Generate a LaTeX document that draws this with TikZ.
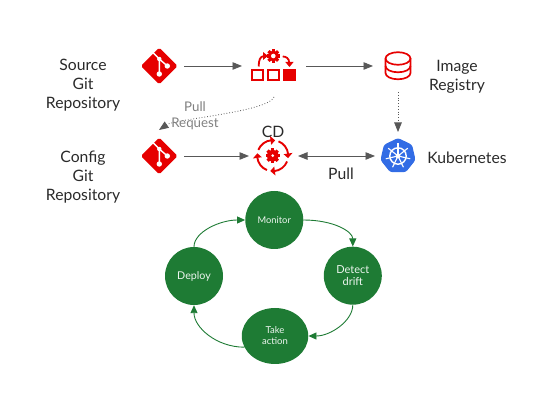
\documentclass[tikz,border=0pt]{standalone}
\usepackage{fontspec}
\setmainfont{Lato}
\usetikzlibrary{arrows.meta,shapes.geometric}
\definecolor{rhred}{HTML}{E60000}
\definecolor{kblue}{HTML}{326CE5}
\definecolor{cgreen}{HTML}{1E7B34}
\definecolor{flow}{HTML}{585858}
\definecolor{soft}{HTML}{808080}
\definecolor{ink}{HTML}{2A2A2A}
\tikzset{
  x=1pt,y=-1pt,
  slot/.style={draw=none,fill=none,inner sep=0pt,outer sep=0pt,minimum width=#1},
  label/.style={font=\fontsize{15.7}{19}\selectfont,text=ink,align=center,inner sep=0pt},
  softlabel/.style={font=\fontsize{13.3}{15.5}\selectfont,text=soft,align=center,inner sep=0pt},
  flowline/.style={draw=flow,line width=0.9pt,-{Triangle[length=9.5pt,width=7.5pt,fill=flow]}},
  dotline/.style={draw=flow,line width=0.8pt,dotted,-{Triangle[length=9.5pt,width=7.5pt,fill=flow,sep=0pt]}},
  stage/.style={ellipse,fill=cgreen,text=white!92!cgreen,inner sep=0pt,align=center,minimum width=58pt,minimum height=58pt},
  cycle/.style={draw=cgreen,line width=0.9pt,-{Triangle[length=8pt,width=7pt,fill=cgreen]}},
  iconline/.style={draw=rhred,line width=1.7pt},
  pics/gitlogo/.style={code={
    \fill[rhred,rounded corners=1.8pt,rotate=45] (-13,-13) rectangle (13,13);
    \draw[white,line width=1.4pt] (-7,-14) -- (0,-7) -- (0,8) (0,-7) -- (8,0);
    \fill[white] (0,8) circle (2.7) (8,0) circle (2.7) (0,-7) circle (2.2);
  }},
  pics/gearicon/.style n args={2}{code={
    \foreach \a in {0,45,...,315}{\fill[rhred,rotate=\a] (-1.6,-#1) rectangle (1.6,0);}
    \fill[rhred] (0,0) circle ({#1*0.8});
    \fill[white] (0,0) circle (#2);
  }},
}
\begin{document}
\begin{tikzpicture}
\useasboundingbox (0,0) rectangle (541,403);
% layout slots
\node[slot=50pt,minimum height=52pt] (srcgit) at (159,66) {};
\node[slot=64pt,minimum height=62pt] (pipe) at (274,66) {};
\node[slot=50pt,minimum height=52pt] (db) at (398,66) {};
\node[slot=50pt,minimum height=52pt] (cfgit) at (159,156) {};
\node[slot=49pt,minimum height=40pt] (cd) at (273.5,156) {};
\node[slot=46pt,minimum height=48pt] (k8s) at (398,156) {};
% icons
\pic at (159.3,66) {gitlogo};
\pic at (159.3,156) {gitlogo};
% pipeline icon
\draw[rhred,line width=1.9pt] (252,69.9) rectangle (263,80.1) (268.2,69.9) rectangle (279,80.1);
\fill[rhred] (282.7,69) rectangle (295.5,81);
\pic at (273.3,56) {gearicon={6.8}{2.3}};
\draw[rhred,line width=1.8pt] (258.7,66.5) .. controls (258.7,60) and (260,56.5) .. (264,56);
\fill[rhred] (268,56) -- (263,52) -- (263,60) -- cycle;
\draw[rhred,line width=1.8pt] (282.7,56.5) .. controls (286,56.5) and (289,58) .. (289.3,63);
\fill[rhred] (289.5,67) -- (285.3,62) -- (293.5,62) -- cycle;
% database icon
\draw[iconline] (385.5,58.5) arc[start angle=180,end angle=-180,x radius=12.5,y radius=6.3];
\draw[iconline] (385.5,58.5) -- (385.5,73) arc[start angle=180,end angle=360,x radius=12.5,y radius=-6.3] -- (410.5,58.5);
\draw[iconline] (385.5,66) arc[start angle=180,end angle=360,x radius=12.5,y radius=-6.3];
% CD icon
\begin{scope}[shift={(272.7,155.7)}]
\foreach \a in {-90,0,90,180}{
  \draw[rhred,line width=1.9pt] (\a-68:15.5) arc[start angle=\a-68,end angle=\a-6,radius=15.5];
  \fill[rhred] (\a-8:20) -- (\a-8:11) -- (\a+9:15.5) -- cycle;
}
\pic at (0,0) {gearicon={7.2}{1.5}};
\end{scope}
% kubernetes icon
\fill[kblue,rounded corners=2.5pt,shift={(398,156)}]
  (-90:18) -- (-38.57:18) -- (12.86:18) -- (64.29:18) -- (115.71:18) -- (167.14:18) -- (218.57:18) -- cycle;
\draw[white,line width=1.4pt] (398,156) circle (8.2);
\foreach \a in {-90,-38.57,12.86,64.29,115.71,167.14,218.57}{
  \draw[white,line width=1.1pt,shift={(398,156)}] (0,0) -- (\a:12.5);
}
\fill[white] (398,156) circle (2.4);
% connectors
\draw[flowline] (srcgit) -- (pipe);
\draw[flowline] (pipe) -- (db);
\draw[dotline] (db) -- (k8s);
\draw[dotline] (pipe.south) .. controls +(-6,15) and +(16,-11) .. (cfgit.north);
\draw[flowline] (cfgit) -- (cd);
\draw[draw=flow,line width=0.9pt,{Triangle[length=9.5pt,width=7.5pt,fill=flow]}-{Triangle[length=9.5pt,width=7.5pt,fill=flow]}] (cd) -- (k8s);
% labels
\node[label] (tsrc) at (83,85) {Source\\Git\\Repository};
\node[label] (tcfg) at (83,177) {Config\\Git\\Repository};
\node[label] (timg) at (457,76.5) {Image\\Registry};
\node[label] (tk8s) at (467,158) {Kubernetes};
\node[label] (tcd) at (273,131.5) {CD};
\node[label] (tpull) at (341,173.5) {Pull};
\node[softlabel] (tpr) at (195,115.5) {Pull\\Request};
% cycle
\node[stage,font=\fontsize{9.3}{11}\selectfont] (mon) at (274.3,220) {Monitor};
\node[stage,font=\fontsize{11}{12.5}\selectfont] (det) at (352.8,275.7) {Detect\\drift};
\node[stage,font=\fontsize{9.5}{11}\selectfont,minimum width=66.5pt,minimum height=56pt] (act) at (275,336) {Take\\action};
\node[stage,font=\fontsize{10.7}{12}\selectfont] (dep) at (194,276) {Deploy};
\draw[cycle] (mon.east) .. controls +(30,0) and +(0,-15) .. (det.north);
\draw[cycle] (det.south) .. controls +(0,16) and +(22,0) .. (act.east);
\draw[cycle] (act.200) .. controls +(-28,0) and +(0,22) .. (dep.south);
\draw[cycle] (dep.north) .. controls +(0,-15) and +(-25,0) .. (mon.west);
\end{tikzpicture}
\end{document}
